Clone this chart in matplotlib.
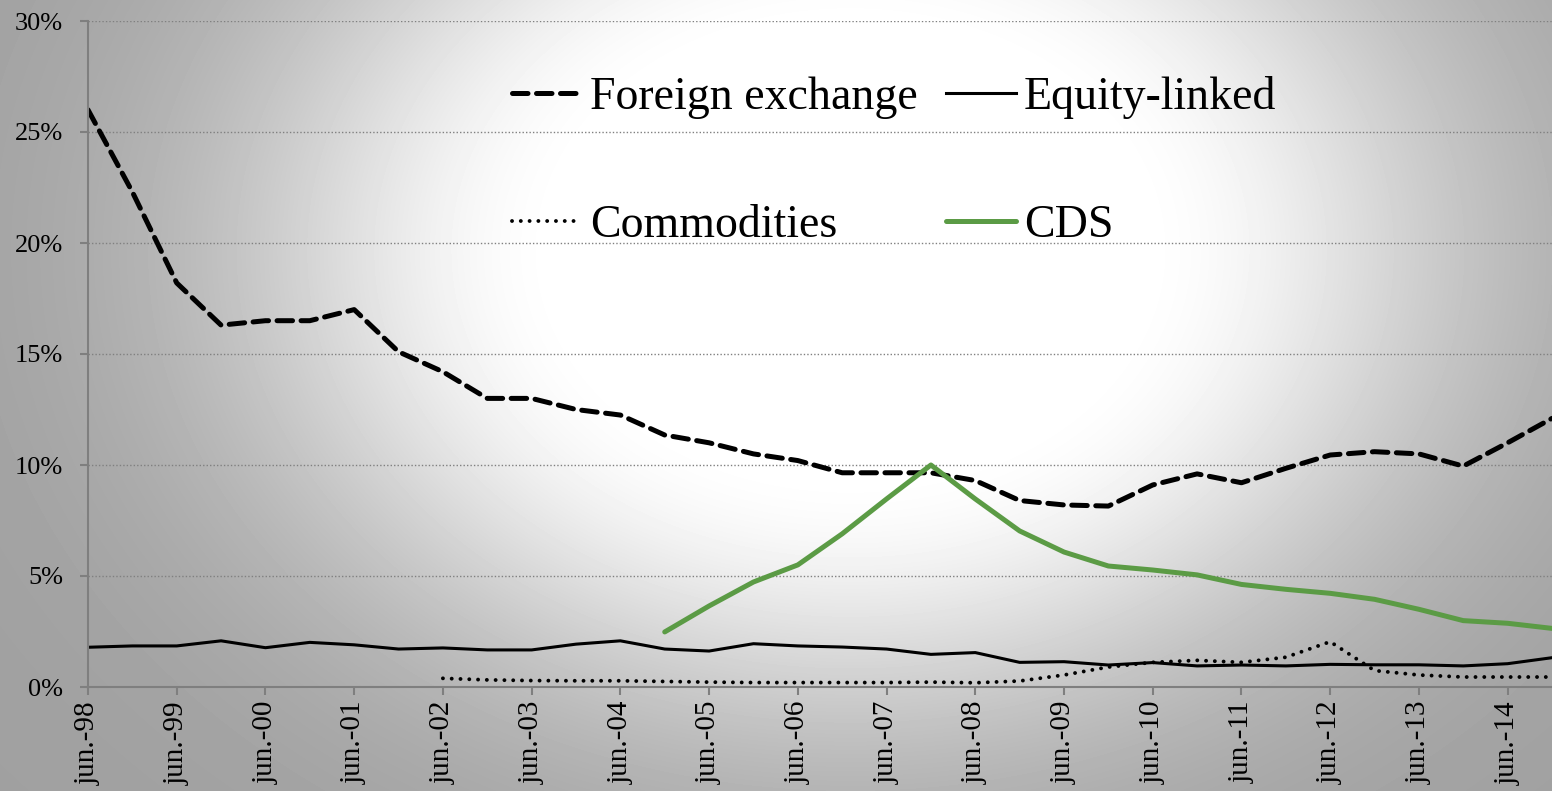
import numpy as np
import matplotlib.pyplot as plt

# Semi-annual observations, jun-98 ... dec-14 (shares of total, %)
years = ['98', '99', '00', '01', '02', '03', '04', '05',
         '06', '07', '08', '09', '10', '11', '12', '13', '14']
nan = np.nan

foreign_exchange = [26.0, 22.3, 18.2, 16.3, 16.5, 16.5, 17.0, 15.1, 14.2, 13.0,
                    13.0, 12.5, 12.25, 11.35, 11.0, 10.5, 10.2, 9.65, 9.65, 9.65,
                    9.3, 8.4, 8.2, 8.15, 9.1, 9.6, 9.2, 9.85, 10.45, 10.6,
                    10.5, 9.95, 11.0, 12.1]
equity_linked = [1.79, 1.85, 1.85, 2.08, 1.77, 2.01, 1.9, 1.71, 1.76, 1.67,
                 1.67, 1.93, 2.08, 1.71, 1.62, 1.95, 1.85, 1.8, 1.71, 1.47,
                 1.55, 1.11, 1.14, 0.99, 1.1, 0.95, 0.99, 0.95, 1.02, 1.0,
                 1.0, 0.95, 1.05, 1.32]
commodities = [nan, nan, nan, nan, nan, nan, nan, nan, 0.39, 0.32,
               0.29, 0.28, 0.28, 0.25, 0.22, 0.2, 0.2, 0.2, 0.2, 0.22,
               0.19, 0.27, 0.54, 0.9, 1.11, 1.2, 1.11, 1.34, 2.04, 0.74,
               0.54, 0.45, 0.45, 0.45]
cds = [nan, nan, nan, nan, nan, nan, nan, nan, nan, nan,
       nan, nan, nan, 2.48, 3.65, 4.73, 5.5, 6.9, 8.47, 10.0,
       8.47, 7.03, 6.08, 5.45, 5.27, 5.05, 4.62, 4.4, 4.22, 3.95,
       3.5, 2.99, 2.87, 2.64]

serif = 'Liberation Serif'
plt.rcParams['font.family'] = serif

fig = plt.figure(figsize=(15.52, 7.91), dpi=100)

# radial grey backdrop, light towards the upper middle
bg = fig.add_axes([0, 0, 1, 1], zorder=0)
W, H = 1552, 791
xx, yy = np.meshgrid(np.arange(W), np.arange(H))
d = np.hypot(xx - 850, (yy - 250) * 1.3)
shade = 160 + 95 * np.exp(-(np.clip(d - 280, 0, None) / 340) ** 2)
bg.imshow(shade / 255, cmap='gray', vmin=0, vmax=1, aspect='auto')
bg.axis('off')

ax = fig.add_axes([88 / W, 104 / H, (W - 88) / W, 666 / H], zorder=1)
ax.set_facecolor('none')

x = np.arange(len(foreign_exchange))
ax.plot(x, foreign_exchange, color='black', lw=3.6, ls=(0, (3.1, 1.7)),
        dash_capstyle='round', label='Foreign exchange')
ax.plot(x, equity_linked, color='black', lw=2.2, label='Equity-linked')
ax.plot(x, commodities, color='black', lw=2.8, ls=(0, (0.01, 2.25)),
        dash_capstyle='round', label='Commodities')
ax.plot(x, cds, color='#5b9b45', lw=3.6, solid_capstyle='round', label='CDS')

ax.set_xlim(0, len(x) - 1)
ax.set_ylim(0, 30)
ax.set_yticks(np.arange(0, 31, 5))
ax.set_yticklabels([f'{v}%' for v in range(0, 31, 5)])
ax.set_xticks(np.arange(0, len(x), 2))
ax.set_xticklabels([f'jun.-{y}' for y in years], rotation=90)

ax.grid(axis='y', color='#808080', ls=(0, (1, 1.5)), lw=1.0)
ax.set_axisbelow(True)
for side in ['top', 'right']:
    ax.spines[side].set_visible(False)
for side in ['left', 'bottom']:
    ax.spines[side].set_color('#7f7f7f')
    ax.spines[side].set_linewidth(1.5)
ax.tick_params(axis='both', colors='#7f7f7f', length=6, width=1.5,
               labelcolor='black', labelsize=19)
ax.tick_params(axis='y', pad=12)
ax.tick_params(axis='x', pad=4, labelsize=21)

h, l = ax.get_legend_handles_labels()
order = [0, 2, 1, 3]
fig.legend([h[i] for i in order], [l[i] for i in order], ncol=2,
           loc='upper left', bbox_to_anchor=(512 / W, 1 - 76 / H),
           frameon=False, fontsize=33, handlelength=1.53,
           handletextpad=0.18, columnspacing=0.6, labelspacing=1.87,
           borderpad=0, borderaxespad=0)

fig.savefig('out.png', dpi=100)
